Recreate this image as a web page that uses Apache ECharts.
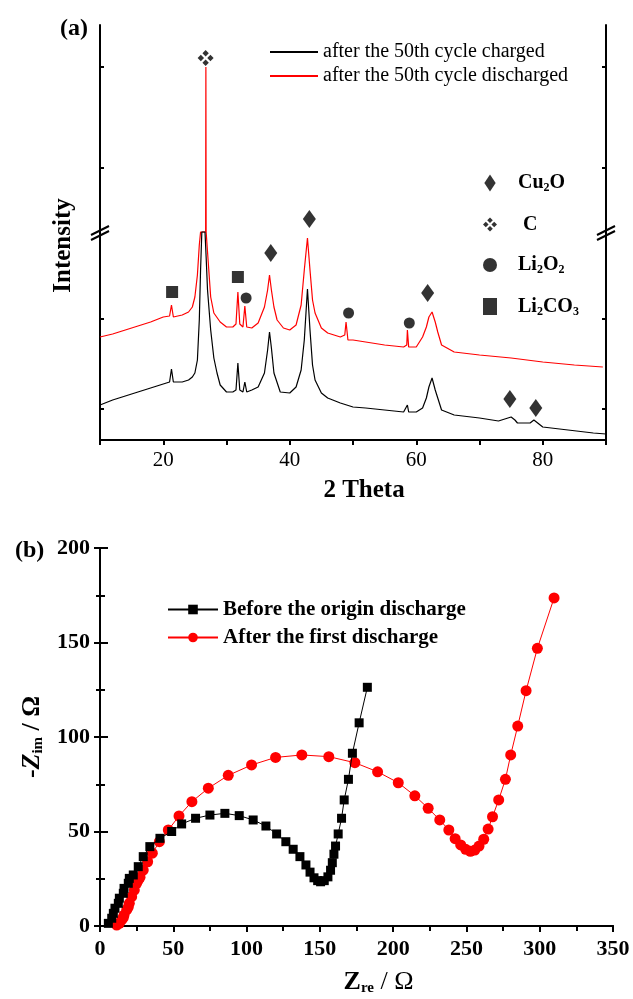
<!DOCTYPE html>
<html>
<head>
<meta charset="utf-8">
<script src="https://cdn.jsdelivr.net/npm/echarts@6/dist/echarts.min.js"></script>
<style>
  html, body { margin: 0; padding: 0; background: #fff; }
  #main { width: 633px; height: 999px; }
</style>
</head>
<body>
<div id="main"></div>
<script>
// (a) XRD patterns, [2theta, intensity (arb. units, break at 208)]
var xrdCharged = [
  [10, 35], [12, 40], [15, 46], [18, 52], [20, 56], [21, 58], [21.3, 71], [21.6, 58],
  [23, 58], [24, 60], [24.6, 63], [25, 67], [25.4, 80], [25.7, 120], [25.9, 170],
  [26.1, 208], [26.6, 208], [26.8, 180], [27, 150], [27.5, 110], [28, 82], [28.5, 67],
  [29, 55], [30, 48], [31, 48], [31.5, 50], [31.8, 77], [32.1, 50], [32.6, 48],
  [32.9, 58], [33.2, 48], [34, 50], [35, 53], [36, 67], [36.5, 90], [36.8, 108],
  [37.1, 92], [37.5, 67], [38.5, 48], [40, 47], [41, 53], [41.8, 70], [42.3, 100],
  [42.8, 151], [43.2, 110], [43.6, 75], [44, 60], [45, 47], [46, 42], [48, 37],
  [50, 33], [52, 32], [55, 30], [58, 28], [58.6, 35], [58.8, 28], [60, 28], [61, 32],
  [61.6, 42], [62, 53], [62.5, 62], [63, 50], [63.4, 42], [64, 30], [66, 25], [70, 22],
  [73, 19], [74.5, 22], [75, 23], [75.6, 20], [76, 17], [78, 17], [78.6, 20], [79.2, 17],
  [80, 13], [84, 10], [88, 7], [90, 6]
];
var xrdDischarged = [
  [10, 103], [12, 106], [15, 112], [18, 118], [20, 123], [21, 124], [21.3, 135], [21.6, 123],
  [23, 125], [24, 128], [24.6, 133], [25, 143], [25.4, 165], [25.7, 195], [25.9, 208],
  [26.7, 208], [26.74, 373], [26.78, 208], [27.05, 208], [27.2, 170], [27.5, 143],
  [28, 127], [29, 118], [30, 113], [31, 113], [31.5, 116], [31.8, 148], [32.1, 116],
  [32.6, 113], [32.9, 134], [33.2, 113], [34, 112], [35, 117], [36, 133], [36.5, 150],
  [36.8, 165], [37.1, 150], [37.5, 133], [38, 120], [39, 112], [40, 110], [41, 115],
  [41.8, 135], [42.3, 170], [42.8, 202], [43.2, 170], [43.6, 140], [44, 127], [45, 112],
  [46, 107], [48, 103], [48.7, 105], [48.9, 118], [49.2, 100], [50, 100], [52, 98],
  [55, 95], [58, 93], [58.5, 95], [58.6, 110], [58.8, 93], [60, 93], [61, 103],
  [61.6, 113], [62, 123], [62.5, 128], [63, 118], [63.4, 108], [64, 95], [66, 88],
  [70, 85], [75, 82], [80, 78], [85, 75], [89.5, 73]
];

// phase markers above the peaks
var cu2oPeaks = [[37.0, 187], [43.1, 221], [61.8, 147], [74.8, 41], [78.9, 32]];
var carbonPeaks = [[26.7, 382]];
var li2o2Peaks = [[33.1, 142], [49.3, 127], [58.9, 117]];
var li2co3Peaks = [[21.4, 148], [31.8, 163]];
var intensityTicks = [31, 121, 272, 373];

// (b) Nyquist plot, [Zre, -Zim]
var eisBefore = [
  [5.7, 1.4], [8, 4.1], [9.1, 6.7], [10.2, 9.4], [12.5, 12], [13.2, 14.7], [15.9, 17.3],
  [16.4, 19.9], [19.3, 22.6], [20, 25.2], [22.7, 27], [26.1, 31.4], [29.5, 36.7],
  [34, 42], [40.9, 46.4], [48.9, 50], [55.7, 54], [65.2, 57], [75, 58.7], [85.2, 59.6],
  [95, 58.4], [104.5, 56.1], [113.2, 52.9], [120.5, 48.7], [126.8, 44.6], [131.8, 40.6],
  [136.4, 36.7], [140.5, 32.3], [143.3, 28.5], [146, 25.5], [148.5, 24], [150.5, 23.4],
  [153, 24], [155.5, 26], [157.3, 29.5], [158.5, 33.5], [159.6, 38], [160.7, 42.3],
  [162.5, 48.7], [164.8, 57], [166.6, 66.7], [169.5, 77.6], [172.2, 91.4],
  [176.8, 107.5], [182.4, 126.3]
];
var eisAfter = [
  [11.4, 0.5], [13.2, 1.4], [14.8, 3.2], [15.9, 4.5], [16.4, 5.8], [18.2, 8.5],
  [19.3, 10], [20, 12], [21.6, 15.5], [23.4, 19], [25, 22.6], [26.1, 24.3], [27.3, 25.8],
  [29.5, 29.6], [32.5, 34], [35.7, 38.5], [40.5, 44.6], [46.6, 50.8], [53.9, 58.2],
  [62.7, 65.8], [73.9, 72.9], [87.5, 79.7], [103.4, 85.2], [119.8, 89.2], [137.7, 90.5],
  [156.1, 89.6], [173.9, 86.4], [189.4, 81.6], [203.5, 75.8], [214.8, 68.9],
  [223.9, 62.3], [231.8, 56.1], [238, 50.8], [242.3, 46.2], [246.1, 42.9], [249.5, 40.6],
  [252.7, 39.5], [255.7, 40.2], [258.6, 42.3], [261.8, 45.9], [264.8, 51.3],
  [267.8, 57.8], [272, 66.7], [276.6, 77.6], [280.2, 90.5], [285, 105.8], [290.7, 124.5],
  [298.4, 146.9], [309.8, 173.6]
];

var serif = "'Liberation Serif', 'Times New Roman', serif";
// four small diamonds (the carbon mark) and a tall diamond
var clover = "path://M10 0L14 4L10 8L6 4ZM16 6L20 10L16 14L12 10ZM10 12L14 16L10 20L6 16ZM4 6L8 10L4 14L0 10Z";
var tallDiamond = "path://M6 0L12 9L6 18L0 9Z";

var phaseNames = {
  "Cu2O": "{g|}{t|Cu}{s|2}{t|O}",
  "C": "{g|}{t| C}",
  "Li2O2": "{g|}{t|Li}{s|2}{t|O}{s|2}",
  "Li2CO3": "{g|}{t|Li}{s|2}{t|CO}{s|3}"
};

// double-slash break mark on the intensity axis
function breakMark(x, y) {
  return {
    type: "group",
    z: 100,
    children: [
      { type: "polygon", shape: { points: [[x - 9, y + 3], [x + 9, y - 6], [x + 9, y - 1], [x - 9, y + 8]] },
        style: { fill: "#fff" } },
      { type: "line", shape: { x1: x - 9, y1: y + 3, x2: x + 9, y2: y - 6 }, style: { stroke: "#000", lineWidth: 2 } },
      { type: "line", shape: { x1: x - 9, y1: y + 8, x2: x + 9, y2: y - 1 }, style: { stroke: "#000", lineWidth: 2 } }
    ]
  };
}

var axisLine = { lineStyle: { color: "#000", width: 2 } };

var myChart = echarts.init(document.getElementById("main"), null, { renderer: "canvas" });

var option = {
  animation: false,
  backgroundColor: "#fff",
  title: [
    { text: "(a)", left: 55, top: 12, textStyle: { fontFamily: serif, fontSize: 24, fontWeight: "bold", color: "#000" } },
    { text: "(b)", left: 10, top: 534, textStyle: { fontFamily: serif, fontSize: 24, fontWeight: "bold", color: "#000" } }
  ],
  grid: [
    { left: 100, top: 25, width: 506, height: 415 },
    { left: 100, top: 548, width: 513, height: 378 }
  ],
  legend: [
    {
      data: ["after the 50th cycle charged", "after the 50th cycle discharged"],
      orient: "vertical", left: 264, top: 37, itemWidth: 48, itemHeight: 10, itemGap: 4,
      itemStyle: { opacity: 0 },
      textStyle: { fontFamily: serif, fontSize: 20, color: "#000" }
    },
    {
      data: ["Cu2O", "C", "Li2O2", "Li2CO3"],
      orient: "vertical", left: 478, top: 168, itemWidth: 14, itemHeight: 17, itemGap: 20.5,
      symbolKeepAspect: true,
      formatter: function (name) { return phaseNames[name]; },
      textStyle: {
        fontFamily: serif, color: "#000",
        rich: {
          g: { width: 16 },
          t: { fontFamily: serif, fontSize: 20, fontWeight: "bold", lineHeight: 22 },
          s: { fontFamily: serif, fontSize: 12, fontWeight: "bold", lineHeight: 10, verticalAlign: "bottom" }
        }
      }
    },
    {
      data: ["Before the origin discharge", "After the first discharge"],
      orient: "vertical", left: 162, top: 594, itemWidth: 50, itemHeight: 12, itemGap: 7,
      textStyle: { fontFamily: serif, fontSize: 21, fontWeight: "bold", color: "#000" }
    }
  ],
  xAxis: [
    {
      gridIndex: 0, type: "value", min: 10, max: 90, interval: 10, position: "bottom",
      name: "2 Theta", nameLocation: "middle", nameGap: 38,
      nameTextStyle: { fontFamily: serif, fontSize: 25, fontWeight: "bold", color: "#000", padding: [0, 0, 0, 22] },
      axisLine: axisLine, splitLine: { show: false },
      axisTick: { inside: false, length: 5, lineStyle: { width: 2 } },
      axisLabel: { customValues: [20, 40, 60, 80], fontFamily: serif, fontSize: 21, color: "#000", margin: 10 }
    },
    {
      gridIndex: 0, type: "value", min: 10, max: 90, interval: 10, position: "top",
      axisLine: axisLine, splitLine: { show: false },
      axisTick: { inside: true, length: 4, lineStyle: { width: 2 } }, axisLabel: { show: false }
    },
    {
      gridIndex: 1, type: "value", min: 0, max: 350, interval: 50, position: "bottom",
      name: "{z|Z}{s|re}{t| / Ω}", nameLocation: "middle", nameGap: 42,
      nameTextStyle: {
        padding: [0, 0, 0, 44],
        rich: {
          z: { fontFamily: serif, fontSize: 26, fontWeight: "bold", color: "#000", lineHeight: 28 },
          s: { fontFamily: serif, fontSize: 15, fontWeight: "bold", color: "#000", lineHeight: 14, verticalAlign: "bottom" },
          t: { fontFamily: serif, fontSize: 26, color: "#000", lineHeight: 28 }
        }
      },
      axisLine: axisLine, splitLine: { show: false },
      axisTick: { inside: false, length: 6, lineStyle: { width: 2 } },
      minorTick: { show: true, splitNumber: 2, length: 5, lineStyle: { color: "#000", width: 2 } },
      axisLabel: { fontFamily: serif, fontSize: 22, fontWeight: "bold", color: "#000", margin: 12 }
    },
    {
      gridIndex: 1, type: "value", min: 0, max: 350, interval: 50, position: "top",
      axisLine: axisLine, splitLine: { show: false },
      axisTick: { inside: true, length: 4, lineStyle: { width: 2 } },
      minorTick: { show: true, splitNumber: 2, length: 4, lineStyle: { color: "#000", width: 2 } },
      axisLabel: { show: false }
    }
  ],
  yAxis: [
    {
      gridIndex: 0, type: "value", min: 0, max: 415, position: "left",
      name: "Intensity", nameLocation: "middle", nameGap: 24,
      nameTextStyle: { fontFamily: serif, fontSize: 25, fontWeight: "bold", color: "#000", padding: [0, 26, 0, 0] },
      axisLine: axisLine, splitLine: { show: false },
      axisTick: { customValues: intensityTicks, inside: true, length: 4, lineStyle: { width: 2 } },
      axisLabel: { show: false }
    },
    {
      gridIndex: 0, type: "value", min: 0, max: 415, position: "right",
      axisLine: axisLine, splitLine: { show: false },
      axisTick: { customValues: intensityTicks, inside: true, length: 4, lineStyle: { width: 2 } },
      axisLabel: { show: false }
    },
    {
      gridIndex: 1, type: "value", min: 0, max: 200, interval: 50, position: "left",
      name: "{t|-}{z|Z}{s|im}{t| / Ω}", nameLocation: "middle", nameGap: 50,
      nameTextStyle: {
        rich: {
          z: { fontFamily: serif, fontSize: 26, fontWeight: "bold", fontStyle: "italic", color: "#000", lineHeight: 28 },
          s: { fontFamily: serif, fontSize: 15, fontWeight: "bold", color: "#000", lineHeight: 14, verticalAlign: "bottom" },
          t: { fontFamily: serif, fontSize: 26, fontWeight: "bold", color: "#000", lineHeight: 28 }
        }
      },
      axisLine: axisLine, splitLine: { show: false },
      axisTick: { inside: true, length: 8, lineStyle: { width: 2 } },
      minorTick: { show: true, splitNumber: 2, length: 5, lineStyle: { color: "#000", width: 2 } },
      axisLabel: { fontFamily: serif, fontSize: 22, fontWeight: "bold", color: "#000", margin: 10 }
    },
    {
      gridIndex: 1, type: "value", min: 0, max: 200, interval: 50, position: "right",
      axisLine: axisLine, splitLine: { show: false },
      axisTick: { inside: true, length: 6, lineStyle: { width: 2 } },
      minorTick: { show: true, splitNumber: 2, length: 4, lineStyle: { color: "#000", width: 2 } },
      axisLabel: { show: false }
    }
  ],
  series: [
    {
      name: "after the 50th cycle charged", type: "line", xAxisIndex: 0, yAxisIndex: 0,
      data: xrdCharged, symbol: "none", color: "#000", lineStyle: { width: 1.2 }, z: 3
    },
    {
      name: "after the 50th cycle discharged", type: "line", xAxisIndex: 0, yAxisIndex: 0,
      data: xrdDischarged, symbol: "none", color: "#ff0000", lineStyle: { width: 1.2 }, z: 2
    },
    { name: "Cu2O", type: "scatter", xAxisIndex: 0, yAxisIndex: 0, data: cu2oPeaks, symbol: tallDiamond, symbolSize: [13, 18], color: "#000" },
    { name: "C", type: "scatter", xAxisIndex: 0, yAxisIndex: 0, data: carbonPeaks, symbol: clover, symbolSize: 16, symbolKeepAspect: true, color: "#000" },
    { name: "Li2O2", type: "scatter", xAxisIndex: 0, yAxisIndex: 0, data: li2o2Peaks, symbol: "circle", symbolSize: 11, symbolKeepAspect: true, color: "#000" },
    { name: "Li2CO3", type: "scatter", xAxisIndex: 0, yAxisIndex: 0, data: li2co3Peaks, symbol: "rect", symbolSize: 12, symbolKeepAspect: true, color: "#000" },
    {
      name: "Before the origin discharge", type: "line", xAxisIndex: 2, yAxisIndex: 2,
      data: eisBefore, symbol: "rect", symbolSize: 9, showAllSymbol: true, color: "#000",
      lineStyle: { width: 1 }, z: 3
    },
    {
      name: "After the first discharge", type: "line", xAxisIndex: 2, yAxisIndex: 2,
      data: eisAfter, symbol: "circle", symbolSize: 11, showAllSymbol: true, color: "#ff0000",
      lineStyle: { width: 1 }, z: 2
    }
  ],
  graphic: [breakMark(100, 232), breakMark(606, 232)]
};

myChart.setOption(option);
</script>
</body>
</html>
